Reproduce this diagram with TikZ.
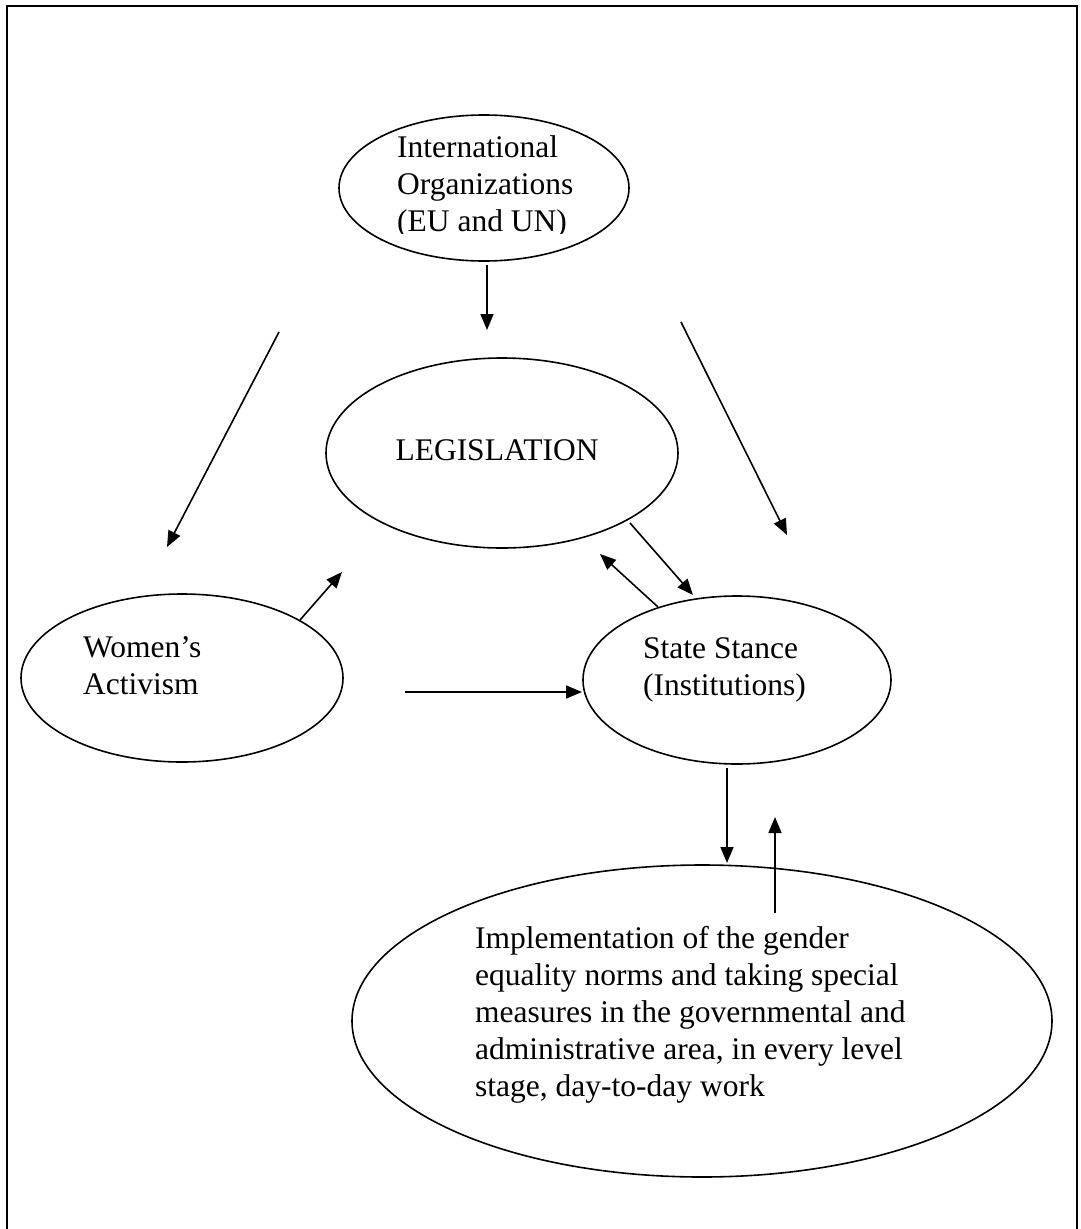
\documentclass[tikz,border=0pt]{standalone}
\usepackage{fontspec}
\setmainfont{Liberation Serif}
\usetikzlibrary{shapes.geometric,arrows.meta}
\begin{document}
\begin{tikzpicture}[x=1pt,y=-1pt,
  oval/.style={draw, ellipse, line width=1.6pt, inner sep=0pt},
  conn/.style={line width=1.6pt, -{Triangle[length=16pt,width=13pt]}},
  txt/.style={anchor=base west, inner sep=0pt, font=\fontsize{31.5}{37}\selectfont},
  frameline/.style={line width=2.8pt}]
\useasboundingbox (0,0) rectangle (1080,1229);
\draw[frameline] (7,1229) -- (7,6) -- (1077,6) -- (1077,1229);

% ellipses
\node[oval, minimum width=290pt, minimum height=146pt] (intl) at (484,188) {};
\node[oval, minimum width=352pt, minimum height=190pt] (leg) at (502,453) {};
\node[oval, minimum width=322pt, minimum height=168pt] (women) at (182,678) {};
\node[oval, minimum width=308pt, minimum height=168pt] (state) at (737,680) {};
\node[oval, minimum width=700pt, minimum height=312pt] (impl) at (702,1021) {};

% texts
\begin{scope}
\clip (380,120) rectangle (600,233);
\node[txt] (intltext) at (397,157) {\begin{tabular}[t]{@{}l@{}}International\\Organizations\\(EU and UN)\end{tabular}};
\end{scope}
\node[txt, anchor=base] (legtext) at (497,460) {LEGISLATION};
\node[txt] (womentext) at (83,657) {\begin{tabular}[t]{@{}l@{}}Women’s\\Activism\end{tabular}};
\node[txt] (statetext) at (643,658) {\begin{tabular}[t]{@{}l@{}}State Stance\\(Institutions)\end{tabular}};
\node[txt] (impltext) at (475,948) {\begin{tabular}[t]{@{}l@{}}Implementation of the gender\\equality norms and taking special\\measures in the governmental and\\administrative area, in every level\\stage, day-to-day work\end{tabular}};

% connector end points
\coordinate (a1s) at (487,265); \coordinate (a1e) at (487,330);
\coordinate (a2s) at (279,332); \coordinate (a2e) at (167,547);
\coordinate (a3s) at (681,322); \coordinate (a3e) at (787,535);
\coordinate (a4s) at (300,620); \coordinate (a4e) at (342,572);
\coordinate (a5s) at (630,523); \coordinate (a5e) at (693,595);
\coordinate (a6s) at (658,607); \coordinate (a6e) at (600,554);
\coordinate (a7s) at (405,692); \coordinate (a7e) at (582,692);
\coordinate (a8s) at (727,768); \coordinate (a8e) at (727,863);
\coordinate (a9s) at (775,913); \coordinate (a9e) at (775,817);

\draw[conn] (a1s) -- (a1e);
\draw[conn] (a2s) -- (a2e);
\draw[conn] (a3s) -- (a3e);
\draw[conn] (a4s) -- (a4e);
\draw[conn] (a5s) -- (a5e);
\draw[conn] (a6s) -- (a6e);
\draw[conn] (a7s) -- (a7e);
\draw[conn] (a8s) -- (a8e);
\draw[conn] (a9s) -- (a9e);
\end{tikzpicture}
\end{document}
